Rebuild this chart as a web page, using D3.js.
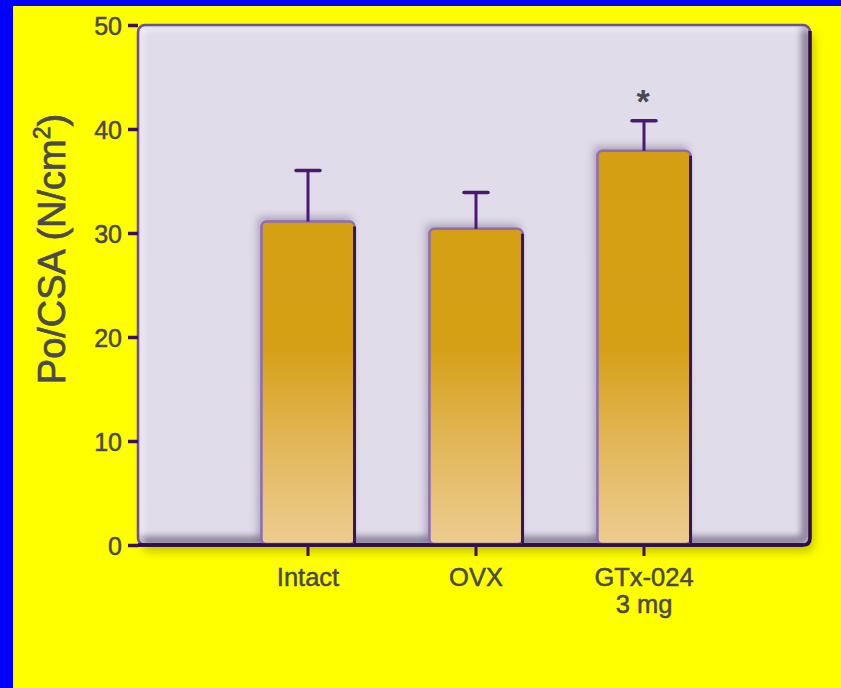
<!DOCTYPE html>
<html>
<head>
<meta charset="utf-8">
<script src="https://cdn.jsdelivr.net/npm/d3@7"></script>
<style>
html,body{margin:0;padding:0;background:#0000ff;}
svg{display:block;}
</style>
</head>
<body>
<svg id="chart" width="841" height="688"></svg>
<script>
const categories = ["Intact", "OVX", "GTx-024\n3 mg"];
const values = [31.1, 30.4, 37.9];
const errors = [4.9, 3.5, 2.9];
const significance = ["", "", "*"];
const yTicks = [0, 10, 20, 30, 40, 50];
const yLabel = "Po/CSA (N/cm";

(function () {
const svg = d3.select("#chart");
const W = 841, H = 688;
const pL = 138, pR = 810, pT = 25, pB = 545;
const FONT = "Liberation Sans, Arial, Helvetica, sans-serif";
const TXT = "#4a4a4a";

// background
svg.append("rect").attr("x", 13).attr("y", 6).attr("width", W - 13).attr("height", H - 6).attr("fill", "#ffff00");

const defs = svg.append("defs");
const grad = defs.append("linearGradient").attr("id", "barGrad")
  .attr("gradientUnits", "userSpaceOnUse").attr("x1", 0).attr("x2", 0).attr("y1", pB).attr("y2", pT);
grad.append("stop").attr("offset", 0).attr("stop-color", "#eccc90");
grad.append("stop").attr("offset", 0.2).attr("stop-color", "#e2b658");
grad.append("stop").attr("offset", 0.38).attr("stop-color", "#d5a015");
grad.append("stop").attr("offset", 1).attr("stop-color", "#d49e10");

const fDrop = defs.append("filter").attr("id", "drop").attr("x", "-10%").attr("y", "-10%").attr("width", "120%").attr("height", "120%");
fDrop.append("feGaussianBlur").attr("stdDeviation", 5);

const fBar = defs.append("filter").attr("id", "barShadow").attr("x", "-30%").attr("y", "-30%").attr("width", "160%").attr("height", "160%");
fBar.append("feGaussianBlur").attr("stdDeviation", 4);

const fInner = defs.append("filter").attr("id", "innerBlur").attr("x", "-10%").attr("y", "-10%").attr("width", "120%").attr("height", "120%");
fInner.append("feGaussianBlur").attr("stdDeviation", 3);

defs.append("clipPath").attr("id", "panelClip").append("rect")
  .attr("x", pL).attr("y", pT).attr("width", pR - pL).attr("height", pB - pT).attr("rx", 7);

const y = d3.scaleLinear().domain([0, 50]).range([pB, pT]);
const x = d3.scaleBand().domain(categories).range([140, 812]).paddingInner(0.446).paddingOuter(0.723);

// panel drop shadow on yellow
svg.append("rect").attr("x", pL + 4).attr("y", pT + 7).attr("width", pR - pL).attr("height", pB - pT)
  .attr("rx", 8).attr("fill", "#8c8c00").attr("opacity", 0.5).attr("filter", "url(#drop)");

// panel
svg.append("rect").attr("x", pL).attr("y", pT).attr("width", pR - pL).attr("height", pB - pT)
  .attr("rx", 7).attr("fill", "#e1dcea");

// inner shading
const inner = svg.append("g").attr("clip-path", "url(#panelClip)");
inner.append("rect").attr("x", pL - 6).attr("y", pT - 6).attr("width", pR - pL + 2).attr("height", pB - pT + 2)
  .attr("rx", 8).attr("fill", "none").attr("stroke", "#8d839c").attr("stroke-width", 10).attr("filter", "url(#innerBlur)");
inner.append("rect").attr("x", pL + 2).attr("y", pT + 2).attr("width", pR - pL + 6).attr("height", pB - pT + 6)
  .attr("rx", 8).attr("fill", "none").attr("stroke", "#ffffff").attr("stroke-width", 6).attr("opacity", 0.6).attr("filter", "url(#innerBlur)");

// panel border
svg.append("rect").attr("x", pL).attr("y", pT).attr("width", pR - pL).attr("height", pB - pT)
  .attr("rx", 7).attr("fill", "none").attr("stroke", "#6f4f95").attr("stroke-width", 2.5);
svg.append("path")
  .attr("d", `M${pR},${pT + 6} L${pR},${pB - 7} Q${pR},${pB} ${pR - 7},${pB} L${pL},${pB}`)
  .attr("fill", "none").attr("stroke", "#2e0d4a").attr("stroke-width", 3.5);

// bar shadows
const barsG = svg.append("g").attr("clip-path", "url(#panelClip)");
barsG.selectAll("rect.sh").data(categories).join("rect").attr("class", "sh")
  .attr("x", d => x(d) - 3).attr("y", (d, i) => y(values[i]) - 4)
  .attr("width", x.bandwidth()).attr("height", (d, i) => pB - y(values[i]))
  .attr("fill", "#5a4a70").attr("opacity", 0.45).attr("filter", "url(#barShadow)");

// bars
barsG.selectAll("rect.bar").data(categories).join("rect").attr("class", "bar")
  .attr("x", d => x(d)).attr("y", (d, i) => y(values[i]))
  .attr("width", x.bandwidth()).attr("height", (d, i) => pB - y(values[i]) - 1)
  .attr("rx", 5).attr("fill", "url(#barGrad)")
  .attr("stroke", "#8d6cb5").attr("stroke-width", 2.5);
barsG.selectAll("line.rb").data(categories).join("line").attr("class", "rb")
  .attr("x1", d => x(d) + x.bandwidth()).attr("x2", d => x(d) + x.bandwidth())
  .attr("y1", (d, i) => y(values[i]) + 5).attr("y2", pB - 2)
  .attr("stroke", "#3a1258").attr("stroke-width", 3);

// bottom axis line redraw
svg.append("line").attr("x1", pL).attr("x2", pR - 7).attr("y1", pB).attr("y2", pB)
  .attr("stroke", "#2e0d4a").attr("stroke-width", 3.5);

// error bars
const eb = svg.append("g");
categories.forEach((c, i) => {
  const cx = x(c) + x.bandwidth() / 2;
  eb.append("line").attr("x1", cx).attr("x2", cx).attr("y1", y(values[i])).attr("y2", y(values[i] + errors[i]))
    .attr("stroke", "#4b1872").attr("stroke-width", 3);
  eb.append("line").attr("x1", cx - 12).attr("x2", cx + 12).attr("y1", y(values[i] + errors[i])).attr("y2", y(values[i] + errors[i]))
    .attr("stroke", "#4b1872").attr("stroke-width", 3.5).attr("stroke-linecap", "round");
  if (significance[i]) {
    eb.append("text").attr("x", cx - 1).attr("y", y(values[i] + errors[i]) - 8)
      .attr("text-anchor", "middle").attr("font-family", FONT)
      .attr("font-size", 34).attr("font-weight", "bold").attr("fill", TXT).text(significance[i]);
  }
});

// y axis
const yAxis = svg.append("g").attr("transform", `translate(${pL},0)`)
  .call(d3.axisLeft(y).tickValues(yTicks).tickSize(10).tickPadding(6));
yAxis.select(".domain").remove();
yAxis.selectAll(".tick line").attr("stroke", "#3a1060").attr("stroke-width", 3.5);
yAxis.selectAll(".tick text").attr("font-family", FONT)
  .attr("font-size", 25).attr("fill", TXT).attr("stroke", TXT).attr("stroke-width", 0.5).attr("dy", "0.36em");

// x axis
const xAxis = svg.append("g").attr("transform", `translate(0,${pB})`)
  .call(d3.axisBottom(x).tickSize(11).tickFormat(""));
xAxis.select(".domain").remove();
xAxis.selectAll(".tick line").attr("stroke", "#3a1060").attr("stroke-width", 3);
xAxis.selectAll(".tick").each(function(d) {
  const t = d3.select(this).append("text").attr("y", 41).attr("text-anchor", "middle")
    .attr("font-family", FONT).attr("font-size", 25.5).attr("fill", TXT)
    .attr("stroke", TXT).attr("stroke-width", 0.5);
  d.split("\n").forEach((line, k) => {
    t.append("tspan").attr("x", 0).attr("dy", k === 0 ? 0 : 27).text(line);
  });
});

// y label
const yl = svg.append("text").attr("transform", "translate(65,249) rotate(-90)")
  .attr("text-anchor", "middle").attr("font-family", FONT)
  .attr("font-size", 38).attr("fill", TXT).attr("stroke", TXT).attr("stroke-width", 0.7);
yl.append("tspan").text(yLabel);
yl.append("tspan").attr("font-size", 23).attr("dy", -15).text("2");
yl.append("tspan").attr("dy", 15).text(")");
})();
</script>
</body>
</html>
